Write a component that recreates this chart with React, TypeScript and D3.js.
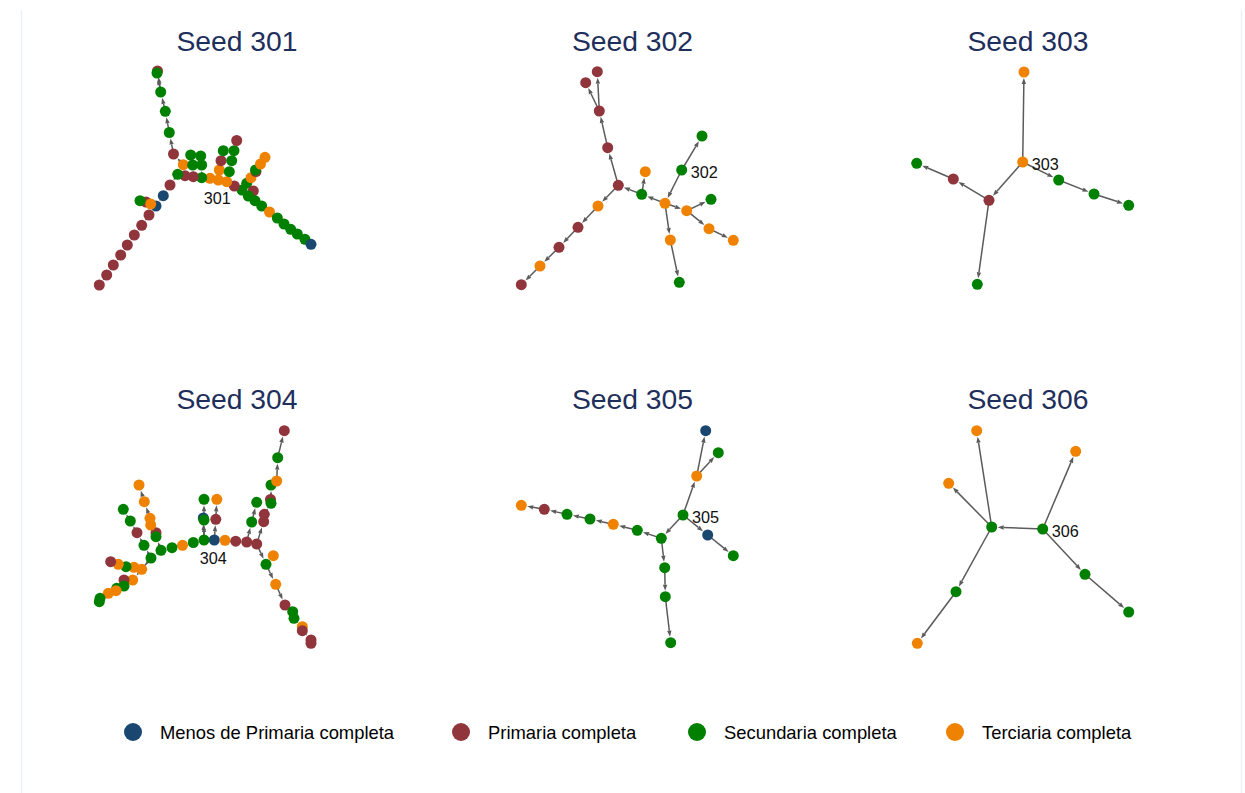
import React from "react";
import * as d3 from "d3";

// ---------- DATA ----------
const categories = [
  "Menos de Primaria completa",
  "Primaria completa",
  "Secundaria completa",
  "Terciaria completa",
];
const categoryColors = ["#1a476f", "#90353b", "#008000", "#ef8200"];

const seeds = ["301", "302", "303", "304", "305", "306"];

// node layout coordinates [x, y, category] (0=Menos,1=Primaria,2=Secundaria,3=Terciaria)
const nodes301: [number, number, number][] = [
  [202.5, 190, 2], [194.8, 186, 1], [187.2, 181.7, 3], [178.8, 180, 3], [170.5, 178.3, 3],
  [162.2, 177.7, 2], [153.8, 176.7, 1], [145.5, 175.7, 1], [138.2, 174.3, 2], [143.8, 164.7, 3],
  [134, 154, 1], [129.8, 132.5, 2], [125.8, 111.3, 2], [121.2, 92, 2], [118, 71, 1],
  [117.5, 73, 2], [130.5, 185, 1], [123.8, 195.7, 0], [116.5, 206, 0], [106.5, 202, 1],
  [111.2, 204, 3], [100.5, 200.7, 2], [109.5, 215, 1], [102.2, 225.3, 1], [94.8, 235, 1],
  [87.8, 245, 1], [81.2, 255, 1], [73.8, 265, 1], [67.2, 275, 1], [59.8, 285, 1],
  [162.2, 165, 2], [161.2, 156, 2], [153.2, 165, 2], [151.2, 155, 2], [179.8, 170, 3],
  [181.5, 160.7, 1], [183.8, 150.7, 2], [189.8, 171.7, 2], [192.2, 160.7, 2], [194.5, 150.7, 2],
  [197.2, 140.5, 1], [207.2, 183.3, 2], [211.5, 177.7, 3], [216.5, 171.5, 1], [216, 170, 2],
  [221, 164, 3], [225.5, 157.3, 3], [213.8, 191, 1], [208.8, 196, 2], [215.5, 200.7, 2],
  [222.2, 206, 2], [230, 212, 3], [237.8, 218, 2], [244.5, 224, 2], [251.2, 229.3, 2],
  [257.8, 234, 2], [265.5, 239.3, 2], [271.5, 244.3, 0],
];
const edges301: [number, number][] = [
  [3, 2], [2, 1], [1, 0], [3, 4], [4, 5], [5, 6], [6, 7], [7, 8], [8, 9], [9, 10],
  [10, 11], [11, 12], [12, 13], [13, 14], [13, 15], [8, 16], [16, 17], [17, 18], [18, 20],
  [20, 19], [19, 21], [18, 22], [22, 23], [23, 24], [24, 25], [25, 26], [26, 27], [27, 28],
  [28, 29], [5, 30], [30, 31], [6, 32], [32, 33], [3, 34], [34, 35], [35, 36], [2, 37],
  [37, 38], [38, 39], [39, 40], [0, 41], [41, 42], [42, 43], [42, 44], [44, 45], [45, 46],
  [0, 47], [0, 48], [48, 49], [49, 50], [50, 51], [51, 52], [52, 53], [53, 54], [54, 55],
  [55, 56], [56, 57],
];

const nodes302: [number, number, number][] = [
  [246.7, 170, 2], [267, 136, 2], [230, 203.3, 3], [206.7, 194.3, 2], [210.3, 171.7, 3],
  [183.3, 185.3, 1], [172.7, 147.7, 1], [164.3, 111, 1], [162.3, 71.7, 1], [150.7, 82.7, 1],
  [163, 206, 3], [143, 227.3, 1], [124, 247.3, 1], [105, 266, 3], [86.3, 284.7, 1],
  [251.7, 210.7, 3], [276, 199.3, 2], [274, 228.7, 3], [298.3, 240.3, 3], [235.3, 240, 3],
  [244.3, 282.3, 2],
];
const edges302: [number, number][] = [
  [0, 1], [0, 2], [2, 3], [3, 4], [3, 5], [5, 6], [6, 7], [7, 8], [7, 9], [5, 10],
  [10, 11], [11, 12], [12, 13], [13, 14], [2, 15], [15, 16], [15, 17], [17, 18], [2, 19],
  [19, 20],
];

const nodes303: [number, number, number][] = [
  [192.2, 162, 3], [193.5, 72, 3], [158.5, 200.3, 1], [122.8, 179, 1], [86.2, 163.3, 2],
  [146.8, 284.3, 2], [228.2, 180, 2], [263.5, 194, 2], [298.2, 205.3, 2],
];
const edges303: [number, number][] = [
  [0, 1], [0, 2], [2, 3], [3, 4], [2, 5], [0, 6], [6, 7], [7, 8],
];

const nodes304: [number, number, number][] = [
  [174.8, 182, 0], [164.5, 182, 2], [163.8, 160, 0], [164.5, 162, 2], [164.5, 141.3, 2],
  [176.3, 161.3, 1], [177.3, 141.3, 3], [185.5, 182.3, 3], [196.2, 183.2, 1], [207.2, 184, 1],
  [217.2, 186, 1], [212.2, 164, 2], [217.2, 144.3, 2], [224.2, 163.7, 1], [224.8, 156.3, 1],
  [231, 141.5, 1], [231.5, 145.3, 2], [231.5, 127, 2], [237.2, 123, 3], [238.2, 99.7, 2],
  [244.8, 72.7, 1], [226.5, 206.3, 2], [233.8, 197.7, 3], [236.2, 226.3, 3], [245.5, 247, 1],
  [253.2, 253.7, 2], [254.5, 260.3, 2], [262.8, 268.7, 3], [262.8, 272.7, 1], [271.5, 282, 1],
  [271.5, 285.3, 1], [153.8, 184.5, 2], [143, 187.3, 3], [132.5, 189.7, 2], [121.5, 192.3, 2],
  [116.5, 174.7, 1], [116.5, 178.7, 2], [111.2, 167, 3], [110.5, 160.3, 3], [104.8, 143.7, 3],
  [99.5, 127, 3], [111.5, 200, 2], [104.5, 187.3, 2], [97.5, 174.7, 1], [90.8, 163, 2],
  [83.8, 151.3, 2], [102.2, 211.3, 3], [94.5, 209.3, 3], [86.5, 208.7, 2], [78.8, 206.3, 3],
  [71.2, 203.7, 1], [93.2, 222, 3], [84.5, 222, 1], [84.5, 228, 2], [77.2, 230.3, 2],
  [76.5, 232.7, 3], [68.8, 235.3, 3], [60.5, 240.3, 2], [59.8, 243.7, 2],
];
const edges304: [number, number][] = [
  [0, 1], [1, 2], [1, 3], [3, 4], [0, 5], [5, 6], [0, 7], [7, 8], [8, 9], [9, 10],
  [9, 11], [11, 12], [10, 13], [13, 14], [14, 16], [16, 15], [16, 17], [17, 18], [18, 19],
  [19, 20], [10, 21], [21, 22], [21, 23], [23, 24], [24, 25], [25, 26], [26, 27], [27, 28],
  [28, 29], [29, 30], [1, 31], [31, 32], [32, 33], [33, 34], [34, 36], [36, 35], [35, 37],
  [37, 38], [38, 39], [39, 40], [34, 41], [41, 42], [42, 43], [43, 44], [44, 45], [41, 46],
  [46, 47], [47, 48], [48, 49], [49, 50], [41, 51], [51, 52], [52, 53], [53, 54], [54, 55],
  [55, 56], [56, 57], [57, 58],
];

const nodes305: [number, number, number][] = [
  [248, 157, 2], [261.7, 118, 3], [270.7, 72.7, 0], [283.3, 94.7, 2], [272.7, 177, 0],
  [298.3, 197.7, 2], [226.3, 180.3, 2], [202.3, 172.3, 2], [178.3, 166.3, 3], [155, 161, 2],
  [132, 156.3, 2], [109.3, 151.3, 1], [86.3, 147.3, 3], [229.7, 209.7, 2], [230.3, 238.7, 2],
  [235.7, 284.7, 2],
];
const edges305: [number, number][] = [
  [0, 1], [1, 2], [1, 3], [0, 4], [4, 5], [0, 6], [6, 7], [7, 8], [8, 9], [9, 10],
  [10, 11], [11, 12], [6, 13], [13, 14], [14, 15],
];

const nodes306: [number, number, number][] = [
  [212.2, 171, 2], [245.2, 93.3, 3], [254.5, 216.3, 2], [298.2, 254, 2], [161.2, 169, 2],
  [146.2, 72.7, 3], [118.2, 125.3, 3], [125.5, 233.7, 2], [86.8, 285.3, 3],
];
const edges306: [number, number][] = [
  [0, 1], [0, 2], [2, 3], [0, 4], [4, 5], [4, 6], [4, 7], [7, 8],
];

const seedNodeIndex = [3, 0, 0, 0, 0, 0];
const labelSide = ["below", "right", "right", "below", "right", "right"];

// ---------- LAYOUT ----------
const W = 1245;
const H = 793;
const panelW = 395;
const panelH = 358;
const colCenters = [237, 632.5, 1028];
const rowTops = [0, 358];
const titleBaselines = [50.5, 408.5];
const legendX = [133, 461, 697, 955];
const legendY = 732;
const R = 5.5;
const edgeColor = "#5b5b5b";

const panels = [
  { nodes: nodes301, edges: edges301 },
  { nodes: nodes302, edges: edges302 },
  { nodes: nodes303, edges: edges303 },
  { nodes: nodes304, edges: edges304 },
  { nodes: nodes305, edges: edges305 },
  { nodes: nodes306, edges: edges306 },
];

const FONT = "'Liberation Sans', Arial, Helvetica, sans-serif";

function Panel({ idx }: { idx: number }) {
  const col = idx % 3;
  const row = Math.floor(idx / 3);
  const ox = colCenters[col] - panelW / 2;
  const oy = rowTops[row];
  const x = d3.scaleLinear().domain([0, panelW]).range([ox, ox + panelW]);
  const y = d3.scaleLinear().domain([0, panelH]).range([oy, oy + panelH]);
  const { nodes, edges } = panels[idx];
  const seed = nodes[seedNodeIndex[idx]];
  const sx = x(seed[0]);
  const sy = y(seed[1]);
  const side = labelSide[idx];
  return (
    <g>
      <text
        x={colCenters[col]}
        y={titleBaselines[row]}
        textAnchor="middle"
        fontFamily={FONT}
        fontSize={28.3}
        fill="#1f2f5c"
      >
        {`Seed ${seeds[idx]}`}
      </text>
      {edges.map(([s, t], i) => {
        const x1 = x(nodes[s][0]);
        const y1 = y(nodes[s][1]);
        const x2 = x(nodes[t][0]);
        const y2 = y(nodes[t][1]);
        const dx = x2 - x1;
        const dy = y2 - y1;
        const len = Math.hypot(dx, dy) || 1;
        const ux = dx / len;
        const uy = dy / len;
        const ex = x2 - ux * (R + 0.5);
        const ey = y2 - uy * (R + 0.5);
        const aL = Math.min(6, len * 0.35);
        const aW = 2.2;
        const bx = ex - ux * aL;
        const by = ey - uy * aL;
        const pts = [
          [ex, ey],
          [bx - uy * aW, by + ux * aW],
          [bx + uy * aW, by - ux * aW],
        ]
          .map((p) => p.join(","))
          .join(" ");
        return (
          <g key={i}>
            <line x1={x1} y1={y1} x2={bx} y2={by} stroke={edgeColor} strokeWidth={1.5} />
            <polygon points={pts} fill={edgeColor} />
          </g>
        );
      })}
      {nodes.map((n, i) => (
        <circle key={i} cx={x(n[0])} cy={y(n[1])} r={R} fill={categoryColors[n[2]]} />
      ))}
      <text
        x={side === "right" ? sx + 9 : sx - 1}
        y={side === "right" ? sy + 1.5 : sy + 18}
        textAnchor={side === "right" ? "start" : "middle"}
        dominantBaseline="central"
        fontFamily={FONT}
        fontSize={16.2}
        fill="#111"
      >
        {seeds[idx]}
      </text>
    </g>
  );
}

export default function App() {
  return (
    <svg
      width={W}
      height={H}
      viewBox={`0 0 ${W} ${H}`}
      style={{ position: "absolute", left: 0, top: 0, display: "block", background: "#fff" }}
    >
      <rect x={0} y={0} width={W} height={H} fill="#ffffff" />
      <line x1={21.5} y1={10} x2={21.5} y2={H} stroke="#edf1f5" strokeWidth={1.5} />
      <line x1={1241.5} y1={10} x2={1241.5} y2={H} stroke="#edf1f5" strokeWidth={1.5} />
      {seeds.map((_, i) => (
        <Panel key={i} idx={i} />
      ))}
      {categories.map((c, i) => (
        <g key={c}>
          <circle cx={legendX[i]} cy={legendY} r={9} fill={categoryColors[i]} />
          <text
            x={legendX[i] + 27}
            y={legendY + 0.5}
            dominantBaseline="central"
            fontFamily={FONT}
            fontSize={18.4}
            fill="#000"
          >
            {c}
          </text>
        </g>
      ))}
    </svg>
  );
}
